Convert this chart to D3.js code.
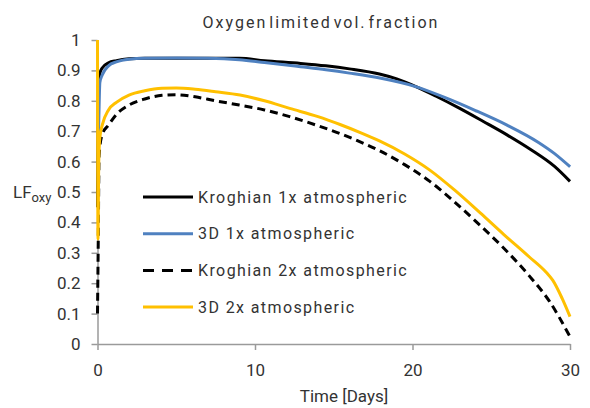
<!DOCTYPE html>
<html>
<head>
<meta charset="utf-8">
<script src="https://cdn.jsdelivr.net/npm/d3@7"></script>
<style>
  body { margin: 0; background: #fff; }
  text { font-family: Roboto, "DejaVu Sans", sans-serif; fill: #333; }
</style>
</head>
<body>
<script>
// values
var chartTitle = "Oxygen limited vol. fraction";
var xTicks = [0, 10, 20, 30];
var yTicks = [0, 0.1, 0.2, 0.3, 0.4, 0.5, 0.6, 0.7, 0.8, 0.9, 1];
var seriesNames = ["Kroghian 1x atmospheric", "3D  1x atmospheric", "Kroghian 2x atmospheric", "3D  2x atmospheric"];

var krogh1Time = [0, 0.05, 0.15, 0.3, 0.7, 1.2, 2, 3, 5, 7, 9, 10.6, 12.9, 14.5, 16, 17.9, 19, 20.25, 21.5, 23, 24.5, 26, 27.5, 29, 30];
var krogh1Vals = [0.45, 0.85, 0.89, 0.908, 0.925, 0.932, 0.938, 0.94, 0.94, 0.94, 0.94, 0.932, 0.923, 0.915, 0.905, 0.888, 0.872, 0.846, 0.815, 0.775, 0.732, 0.688, 0.64, 0.585, 0.535];

var d3v1Time = [0, 0.05, 0.15, 0.3, 0.7, 1.2, 2, 3, 5, 7, 9, 10.6, 12.9, 14.5, 16, 18, 20.25, 22, 24, 26, 28, 29, 30];
var d3v1Vals = [0.7, 0.7, 0.86, 0.885, 0.915, 0.928, 0.937, 0.94, 0.941, 0.94, 0.935, 0.926, 0.912, 0.902, 0.891, 0.874, 0.846, 0.812, 0.768, 0.72, 0.663, 0.627, 0.583];

var krogh2Time = [0, 0.05, 0.1, 0.3, 0.7, 1.2, 2, 3, 4.1, 5, 6.2, 7.5, 9, 10.6, 12.2, 14, 15.4, 16.5, 17.9, 19.5, 21.1, 22.5, 24.3, 25.8, 27.4, 28.7, 30];
var krogh2Vals = [0.1, 0.35, 0.62, 0.69, 0.72, 0.755, 0.786, 0.806, 0.818, 0.82, 0.813, 0.8, 0.786, 0.77, 0.748, 0.718, 0.692, 0.669, 0.636, 0.59, 0.535, 0.475, 0.39, 0.315, 0.225, 0.14, 0.024];

var d3v2Time = [0, 0.03, 0.08, 0.15, 0.3, 0.7, 1.2, 2, 3, 4.1, 5, 6.2, 7.5, 9.05, 10.6, 12.2, 14, 15.4, 16.8, 17.9, 19.5, 21.1, 22.7, 24.3, 25.8, 27.4, 28.5, 28.9, 29.5, 30];
var d3v2Vals = [1.0, 0.345, 0.6, 0.68, 0.72, 0.77, 0.795, 0.819, 0.833, 0.841, 0.842, 0.838, 0.83, 0.819, 0.8, 0.775, 0.748, 0.722, 0.693, 0.668, 0.625, 0.572, 0.505, 0.431, 0.36, 0.287, 0.235, 0.21, 0.15, 0.09];

const margin = {
    left: 97.5,
    right: 20,
    top: 40,
    bottom: 64
};
var width = 590 - (margin.left + margin.right);
var height = 408 - (margin.top + margin.bottom);

var svg = d3.select("body")
    .append("svg")
    .attr("width", 590)
    .attr("height", 408);

var g = svg.append("g")
    .attr("transform", "translate(" + margin.left + "," + margin.top + ")");

var x = d3.scaleLinear().domain([0, 30]).range([0, width]);
var y = d3.scaleLinear().domain([0, 1]).range([height, 0]);

var xAxis = d3.axisBottom(x).tickValues(xTicks).tickSize(6).tickPadding(14).tickSizeOuter(0);
var xg = g.append("g")
    .attr("transform", "translate(0," + height + ")")
    .call(xAxis);

var yAxis = d3.axisLeft(y).tickValues(yTicks).tickSize(6).tickPadding(11).tickSizeOuter(0)
    .tickFormat(d3.format("~g"));
var yg = g.append("g").call(yAxis);

[xg, yg].forEach(function(a){
    a.selectAll("path, line").attr("stroke", "#9a9a9a").attr("stroke-width", 1.5);
    a.selectAll("text").style("font-size", "17px").style("fill", "#333");
});

var series = [
    { time: krogh1Time, vals: krogh1Vals, color: "#000000", dash: null },
    { time: d3v1Time, vals: d3v1Vals, color: "#4f81c0", dash: null },
    { time: krogh2Time, vals: krogh2Vals, color: "#000000", dash: "8,5" },
    { time: d3v2Time, vals: d3v2Vals, color: "#ffc000", dash: null }
];

var line = d3.line()
    .x(d => x(d[0]))
    .y(d => y(d[1]))
    .curve(d3.curveMonotoneX);

series.forEach(function(s){
    var pts = s.time.map((t, i) => [t, s.vals[i]]);
    g.append("path")
        .attr("d", line(pts))
        .attr("fill", "none")
        .attr("stroke", s.color)
        .attr("stroke-width", 3)
        .attr("stroke-dasharray", s.dash);
});

// legend
var legend = svg.append("g").attr("transform", "translate(143,197)");
series.forEach(function(s, i){
    var row = legend.append("g").attr("transform", "translate(0," + (i * 36.7) + ")");
    row.append("line")
        .attr("x1", 0).attr("x2", 50)
        .attr("stroke", s.color)
        .attr("stroke-width", 3)
        .attr("stroke-dasharray", s.dash ? "11,8" : null);
    row.append("text")
        .attr("x", 55)
        .attr("dy", "0.35em")
        .style("font-size", "16px")
        .style("letter-spacing", "1.4px")
        .text(seriesNames[i]);
});

// title and axis titles
svg.append("text")
    .attr("x", 321)
    .attr("y", 28)
    .attr("text-anchor", "middle")
    .style("font-size", "16px")
    .style("letter-spacing", "2px")
    .style("word-spacing", "-4px")
    .text(chartTitle);

svg.append("text")
    .attr("x", 344)
    .attr("y", 402)
    .attr("text-anchor", "middle")
    .style("font-size", "17px")
    .text("Time [Days]");

var lf = svg.append("text")
    .attr("x", 13)
    .attr("y", 198)
    .style("font-size", "17px");
lf.append("tspan").text("LF");
lf.append("tspan").attr("dy", 4).style("font-size", "13px").text("oxy");
</script>
</body>
</html>
